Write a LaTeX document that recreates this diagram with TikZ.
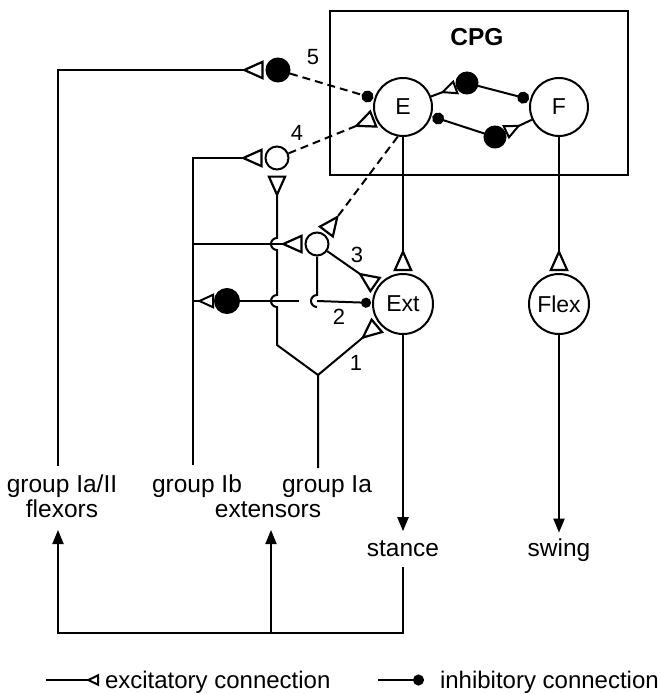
\documentclass[tikz,border=0pt]{standalone}
\usepackage{fontspec}
\setmainfont{Liberation Sans}
\usetikzlibrary{arrows.meta}

\tikzset{
  cell/.style={circle, draw, line width=2pt, inner sep=0pt, minimum size=58pt, font=\fontsize{23}{24}\selectfont},
  motor/.style={cell, minimum size=60pt},
  inter/.style={circle, draw, line width=2pt, inner sep=0pt, minimum size=23pt},
  interinh/.style={inter, fill=black},
  exc/.style={-{Triangle[open, reversed, length=22pt, width=19pt, line width=2.2pt]}, shorten >=2pt},
  excsmall/.style={-{Triangle[open, reversed, length=17pt, width=15pt, line width=2pt]}, shorten >=0pt},
  inh/.style={-{Circle[length=12pt]}, shorten >=1pt},
  fb/.style={-{Triangle[length=14pt, width=11pt]}},
  dashconn/.style={dash pattern=on 8pt off 5pt},
  lbl/.style={font=\fontsize{24.5}{26}\selectfont, inner sep=0pt},
  legendtext/.style={font=\fontsize{24}{26}\selectfont, inner sep=0pt, anchor=base west},
  num/.style={font=\fontsize{22}{24}\selectfont, inner sep=0pt},
}

\begin{document}
\begin{tikzpicture}[x=1pt, y=-1pt, line width=2pt]
  \useasboundingbox (0,0) rectangle (661,694);

  % CPG box with the two half centres
  \node[draw, line width=2.6pt, minimum width=298pt, minimum height=164pt, inner sep=0pt] (cpg) at (479,93) {};
  \node[lbl, font=\fontsize{24.5}{26}\selectfont\bfseries] (cpgtitle) at (477,37) {CPG};
  \node[cell] (E) at (403,107) {E};
  \node[cell] (F) at (559,107) {F};
  \node[interinh, minimum size=21pt] (ie) at (467,83) {};
  \node[interinh, minimum size=21pt] (if) at (495,137) {};
  \draw[excsmall] (E) -- (ie);
  \draw[inh] (ie) -- (F);
  \draw[excsmall] (F) -- (if);
  \draw[inh] (if) -- (E);

  % motoneurons
  \node[motor] (Ext) at (403,304) {Ext};
  \node[motor] (Flex) at (559,304) {Flex};
  \draw[exc] (E) -- (Ext);
  \draw[exc] (F) -- (Flex);

  % interneurons
  \node[interinh] (n5) at (278,70) {};
  \node[inter] (n4) at (277,158) {};
  \node[inter] (n3) at (317,244) {};
  \node[interinh, minimum size=24pt] (n2) at (227,301) {};

  % afferent lines
  \coordinate (iaIIend) at (58,466);
  \coordinate (ibend) at (193,465);
  \coordinate (iaend) at (318,468);
  \coordinate (split) at (318,375);
  \coordinate (bend) at (277,345);
  \coordinate (cut2) at (299,301);
  \coordinate (hop2) at (317,301);
  \coordinate (hop2top) at (317,295);

  \draw[exc] (iaIIend) |- (n5);
  \draw[exc] (ibend) |- (n4);
  \draw[exc] (ibend |- n3) -- (n3);
  \draw[excsmall] (ibend |- n2) -- (n2);
  \draw (n2) -- (cut2);
  \draw (n3) -- (hop2top) arc[start angle=270, end angle=90, radius=6];
  \draw[inh, -{Circle[length=10pt]}] (hop2) -- (Ext);
  \draw[exc, shorten >=5pt] (iaend) -- (split) -- (bend) -- (277,307)
    arc[start angle=90, end angle=270, radius=6] -- (277,250)
    arc[start angle=90, end angle=270, radius=6] -- (n4);
  \draw[exc] (split) -- (Ext);
  \draw[exc] (n3) -- (Ext);

  % descending connections from E
  \draw[dashconn, inh] (n5) -- (E);
  \draw[dashconn, exc, shorten >=1pt] (n4) -- (E);
  \draw[dashconn, exc] (E.260) -- (n3);

  % numbers
  \node[num] (num1) at (356,363) {1};
  \node[num] (num2) at (339,317) {2};
  \node[num] (num3) at (357,255) {3};
  \node[num] (num4) at (297,133) {4};
  \node[num] (num5) at (313,57) {5};

  % labels
  \node[lbl, anchor=base] (flexlbla) at (62,492) {group Ia/II};
  \node[lbl, anchor=base] (flexlblb) at (62,517) {flexors};
  \node[lbl, anchor=base] (iblbl) at (197,492) {group Ib};
  \node[lbl, anchor=base] (ialbl) at (327,492) {group Ia};
  \node[lbl, anchor=base] (extlbl) at (268,517) {extensors};
  \node[lbl, anchor=base] (stance) at (403,556) {stance};
  \node[lbl, anchor=base] (swing) at (559,556) {swing};
  \draw[fb, shorten >=17pt] (Ext) -- (stance.center);
  \draw[fb, shorten >=17pt] (Flex) -- (swing.center);

  % feedback loop
  \coordinate (loopr) at (403,567);
  \coordinate (loopc) at (271,633);
  \coordinate (flextip) at (58,530);
  \coordinate (exttip) at (271,530);
  \draw[fb] (loopr) |- (flextip |- loopc) -- (flextip);
  \draw[fb] (loopc) -- (exttip);

  % legend
  \coordinate (lgex1) at (46,680);
  \coordinate (lgex2) at (99,680);
  \draw[-{Triangle[open, reversed, length=13pt, width=12pt]}] (lgex1) -- (lgex2);
  \node[legendtext] (lgextext) at (104,688) {excitatory connection};
  \coordinate (lgin1) at (378,680);
  \coordinate (lgin2) at (424,680);
  \draw[-{Circle[length=11pt]}] (lgin1) -- (lgin2);
  \node[legendtext] (lgintext) at (439,688) {inhibitory connection};
\end{tikzpicture}
\end{document}
